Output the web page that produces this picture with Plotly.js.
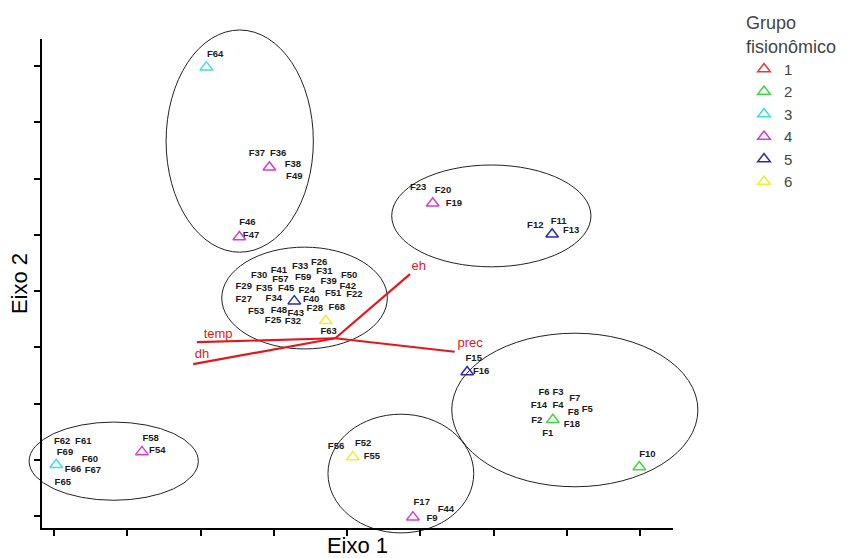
<!DOCTYPE html>
<html><head><meta charset="utf-8">
<script src="https://cdn.plot.ly/plotly-3.0.1.min.js"></script>
<style>html,body{margin:0;padding:0;background:#fff}#chart{width:856px;height:558px}</style>
</head><body><div id="chart"></div>
<script>
// ---- data (axis units: unlabeled ordination scores) ----
const groupNames = ['1', '2', '3', '4', '5', '6'];
const groupColors = ['#e03c3c', '#3ddc3d', '#3de0e0', '#d63cd6', '#2b2bb0', '#eded3a'];
const g1X = [null], g1Y = [null];   // group 1 has no sample shown in the plot
const g2X = [6.81, 7.99], g2Y = [1.71, 0.87];
const g3X = [2.08, 0.03], g3Y = [7.98, 0.91];
const g4X = [2.94, 2.53, 5.17, 1.20, 4.90], g4Y = [6.20, 4.96, 5.56, 1.14, -0.02];
const g5X = [6.80, 3.28, 5.64], g5Y = [5.01, 3.82, 2.56];
const g6X = [3.71, 4.08], g6Y = [3.47, 1.05];

const labelText = ['F64','F37','F36','F38','F49','F46','F47',
  'F33','F26','F41','F30','F31','F50','F57','F59','F39','F29','F35','F45','F24','F42','F51','F22',
  'F27','F34','F40','F28','F68','F53','F48','F43','F25','F32','F63',
  'F23','F20','F19','F12','F11','F13',
  'F15','F16','F6','F3','F7','F14','F4','F8','F5','F2','F18','F1','F10',
  'F62','F61','F69','F60','F66','F67','F65','F58','F54',
  'F56','F52','F55','F17','F44','F9'];
const labelX = [2.20,2.77,3.06,3.26,3.28,2.64,2.69,
  3.36,3.62,3.07,2.80,3.69,4.03,3.09,3.40,3.75,2.59,2.87,3.17,3.45,4.01,3.81,4.10,
  2.59,3.00,3.51,3.56,3.86,2.76,3.07,3.30,2.99,3.26,3.75,
  4.97,5.31,5.46,6.57,6.89,7.06,
  5.73,5.83,6.69,6.88,7.11,6.62,6.88,7.09,7.28,6.59,7.07,6.74,8.10,
  0.11,0.40,0.15,0.49,0.26,0.53,0.12,1.32,1.41,
  3.85,4.22,4.34,5.02,5.35,5.16];
const labelY = [8.20,6.44,6.44,6.24,6.04,5.21,4.98,
  4.44,4.50,4.36,4.28,4.34,4.27,4.20,4.23,4.16,4.07,4.04,4.04,4.00,4.07,3.95,3.93,
  3.84,3.86,3.84,3.68,3.70,3.64,3.66,3.59,3.48,3.45,3.27,
  5.83,5.78,5.56,5.17,5.23,5.07,
  2.79,2.56,2.19,2.20,2.08,1.96,1.96,1.83,1.90,1.69,1.62,1.46,1.10,
  1.32,1.32,1.12,1.01,0.82,0.80,0.60,1.37,1.16,
  1.23,1.28,1.05,0.23,0.12,-0.05];

// environmental vectors (biplot arrows)
const vecNames = ['temp', 'dh', 'eh', 'prec'];
const vecOrigin = [3.84, 3.16];
const vecEndX = [1.95, 1.90, 4.86, 5.47];
const vecEndY = [3.09, 2.70, 4.30, 2.92];
const vecLabelX = [2.24, 2.02, 4.98, 5.68];
const vecLabelY = [3.22, 2.86, 4.43, 3.06];

// group ellipses (bounding boxes in axis units)
const ellX0 = [1.53, 2.29, 4.61, 5.43, -0.34, 3.74];
const ellX1 = [3.54, 4.55, 7.33, 8.79, 1.97, 5.73];
const ellY0 = [4.69, 2.97, 4.43, 0.52, 0.28, -0.30];
const ellY1 = [8.64, 4.78, 6.24, 3.25, 1.67, 1.81];

const tickVals = [0, 1, 2, 3, 4, 5, 6, 7, 8];
const xRange = [-0.164, 8.45];
const yRange = [-0.213, 8.48];

// ---- build ----
const FONT = 'Arial, "Liberation Sans", sans-serif';
const gx = [g1X, g2X, g3X, g4X, g5X, g6X];
const gy = [g1Y, g2Y, g3Y, g4Y, g5Y, g6Y];
const traces = [];

vecNames.forEach((n, i) => {
  traces.push({
    type: 'scatter', mode: 'lines', x: [vecOrigin[0], vecEndX[i]], y: [vecOrigin[1], vecEndY[i]],
    line: {color: '#e3171c', width: 2.2}, showlegend: false, hoverinfo: 'skip'
  });
});

traces.push({
  type: 'scatter', mode: 'text', x: labelX, y: labelY, text: labelText,
  textfont: {family: FONT, size: 9.5, color: '#1a1a1a', weight: 'bold'}, showlegend: false, hoverinfo: 'skip', cliponaxis: false
});
traces.push({
  type: 'scatter', mode: 'text', x: vecLabelX, y: vecLabelY, text: vecNames,
  textfont: {family: FONT, size: 13, color: '#e3171c'}, showlegend: false, hoverinfo: 'skip', cliponaxis: false
});

groupNames.forEach((n, i) => {
  traces.push({
    type: 'scatter', mode: 'markers', name: n, x: gx[i], y: gy[i],
    marker: {symbol: 'triangle-up-open', size: 11, color: groupColors[i], line: {width: 1.5, color: groupColors[i]}},
    cliponaxis: false
  });
});

const px = v => (v - xRange[0]) / (xRange[1] - xRange[0]);
const py = v => (v - yRange[0]) / (yRange[1] - yRange[0]);
const shapes = ellX0.map((_, i) => ({
  type: 'circle', xref: 'paper', yref: 'paper',
  x0: px(ellX0[i]), x1: px(ellX1[i]), y0: py(ellY0[i]), y1: py(ellY1[i]),
  line: {color: '#222', width: 1}, layer: 'below'
}));

const axisCommon = {
  showgrid: false, zeroline: false, showticklabels: false,
  ticks: 'outside', ticklen: 6, tickwidth: 2, tickcolor: '#000',
  showline: true, linecolor: '#000', linewidth: 2,
  tickmode: 'array', tickvals: tickVals, automargin: false
};

const layout = {
  width: 856, height: 558,
  margin: {l: 42, r: 183, t: 39, b: 30},
  paper_bgcolor: '#fff', plot_bgcolor: '#fff',
  font: {family: FONT, color: '#000'},
  xaxis: Object.assign({}, axisCommon, {range: xRange, title: {text: 'Eixo 1', font: {size: 22, family: FONT}, standoff: 5}}),
  yaxis: Object.assign({}, axisCommon, {range: yRange, title: {text: 'Eixo 2', font: {size: 22, family: FONT}, standoff: 0}}),
  shapes: shapes,
  showlegend: true,
  legend: {
    xref: 'container', yref: 'container', x: 744 / 856, y: 1 - 6 / 558, xanchor: 'left', yanchor: 'top',
    title: {text: 'Grupo<br>fisionômico', font: {size: 18, color: '#444', family: FONT}},
    font: {size: 15, color: '#444', family: FONT}, bgcolor: 'rgba(0,0,0,0)', borderwidth: 0, tracegroupgap: 0
  }
};

Plotly.newPlot('chart', traces, layout, {displayModeBar: false, staticPlot: true});
</script></body></html>
